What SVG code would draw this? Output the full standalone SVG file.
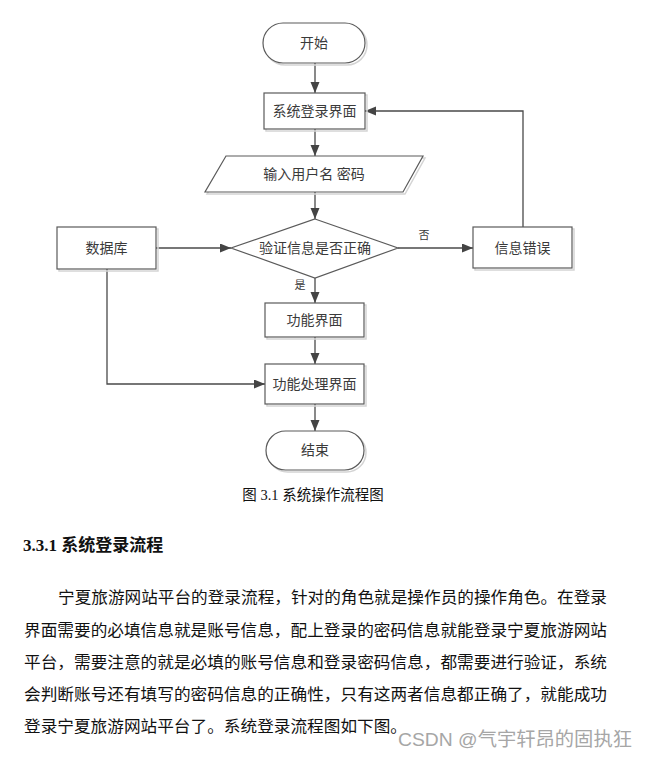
<svg xmlns="http://www.w3.org/2000/svg" width="646" height="757" viewBox="0 0 646 757">
<style>
.node{fill:#fff;stroke:#5a5a5a;stroke-width:1.2}
.shadow{fill:none;stroke:#d4d4d4;stroke-width:1.5}
.lbl{font-family:"Liberation Serif","Noto Sans CJK SC",serif;font-size:14px;fill:#3a3a3a;text-anchor:middle}
.small{font-family:"Liberation Serif","Noto Sans CJK SC",serif;font-size:11px;fill:#3a3a3a;text-anchor:middle}
.conn{fill:none;stroke:#4a4a4a;stroke-width:1.3}
.para{font-family:"Noto Sans CJK SC",sans-serif;font-size:16.4px;fill:#111}
</style>
<defs>
<marker id="arr" markerUnits="userSpaceOnUse" markerWidth="12" markerHeight="10" refX="11" refY="4.5" orient="auto">
<path d="M0,0 L11,4.5 L0,9 z" fill="#444"/>
</marker>
</defs>
<rect width="646" height="757" fill="#fff"/>

<g id="connectors">
<line class="conn" x1="315" y1="63" x2="315" y2="93" marker-end="url(#arr)"/>
<line class="conn" x1="315" y1="129" x2="315" y2="156" marker-end="url(#arr)"/>
<line class="conn" x1="315" y1="192" x2="315" y2="219" marker-end="url(#arr)"/>
<line class="conn" x1="315" y1="278" x2="315" y2="303" marker-end="url(#arr)"/>
<line class="conn" x1="315" y1="337" x2="315" y2="364" marker-end="url(#arr)"/>
<line class="conn" x1="315" y1="404" x2="315" y2="431" marker-end="url(#arr)"/>
<line class="conn" x1="156" y1="248" x2="231" y2="248" marker-end="url(#arr)"/>
<polyline class="conn" points="107,269 107,384 265,384" marker-end="url(#arr)"/>
<line class="conn" x1="398" y1="248" x2="473" y2="248" marker-end="url(#arr)"/>
<polyline class="conn" points="523,228 523,111 365,111" marker-end="url(#arr)"/>
<text class="small" x="300" y="289">是</text>
<text class="small" x="424" y="239">否</text>
</g>

<g id="start">
<rect class="shadow" x="265" y="25" width="102" height="40" rx="20"/>
<rect class="node" x="263" y="23" width="102" height="40" rx="20"/>
<text class="lbl" x="314" y="48">开始</text>
</g>
<g id="login">
<rect class="shadow" x="266" y="95" width="101" height="36"/>
<rect class="node" x="264" y="93" width="101" height="36"/>
<text class="lbl" x="314.5" y="116">系统登录界面</text>
</g>
<g id="input">
<polygon class="shadow" points="228,158 425,158 405,194 207,194"/>
<polygon class="node" points="226,156 423,156 403,192 205,192"/>
<text class="lbl" x="314" y="179">输入用户名 密码</text>
</g>
<g id="verify">
<polygon class="node" points="315,219 398,248 315,278 231,248"/>
<text class="lbl" x="315" y="253">验证信息是否正确</text>
</g>
<g id="db">
<rect class="shadow" x="59" y="229" width="99" height="42"/>
<rect class="node" x="57" y="227" width="99" height="42"/>
<text class="lbl" x="106.5" y="253">数据库</text>
</g>
<g id="error">
<rect class="shadow" x="475" y="229" width="99" height="41"/>
<rect class="node" x="473" y="227" width="99" height="41"/>
<text class="lbl" x="522.5" y="253">信息错误</text>
</g>
<g id="func">
<rect class="shadow" x="267" y="305" width="99" height="34"/>
<rect class="node" x="265" y="303" width="99" height="34"/>
<text class="lbl" x="314.5" y="325">功能界面</text>
</g>
<g id="process">
<rect class="shadow" x="267" y="366" width="99" height="40"/>
<rect class="node" x="265" y="364" width="99" height="40"/>
<text class="lbl" x="314.5" y="389">功能处理界面</text>
</g>
<g id="end">
<rect class="shadow" x="268" y="433" width="98" height="39" rx="19.5"/>
<rect class="node" x="266" y="431" width="98" height="39" rx="19.5"/>
<text class="lbl" x="315" y="455">结束</text>
</g>

<text x="313" y="500" text-anchor="middle" font-family="'Liberation Serif','Noto Sans CJK SC',serif" font-size="14.5" fill="#111">图 3.1 系统操作流程图</text>
<text x="23" y="551" font-family="'Liberation Serif','Noto Sans CJK SC',serif" font-size="17" font-weight="bold" fill="#111">3.3.1 系统登录流程</text>

<text class="para" x="58" y="603" textLength="549" lengthAdjust="spacingAndGlyphs">宁夏旅游网站平台的登录流程，针对的角色就是操作员的操作角色。在登录</text>
<text class="para" x="24" y="636" textLength="583" lengthAdjust="spacingAndGlyphs">界面需要的必填信息就是账号信息，配上登录的密码信息就能登录宁夏旅游网站</text>
<text class="para" x="24" y="668" textLength="583" lengthAdjust="spacingAndGlyphs">平台，需要注意的就是必填的账号信息和登录密码信息，都需要进行验证，系统</text>
<text class="para" x="24" y="700" textLength="583" lengthAdjust="spacingAndGlyphs">会判断账号还有填写的密码信息的正确性，只有这两者信息都正确了，就能成功</text>
<text class="para" x="24" y="732" textLength="383" lengthAdjust="spacingAndGlyphs">登录宁夏旅游网站平台了。系统登录流程图如下图。</text>

<text x="398" y="746" font-family="'Liberation Sans','Noto Sans CJK SC',sans-serif" font-size="19" fill="#a6a6a6" textLength="234" lengthAdjust="spacingAndGlyphs">CSDN @气宇轩昂的固执狂</text>
</svg>
